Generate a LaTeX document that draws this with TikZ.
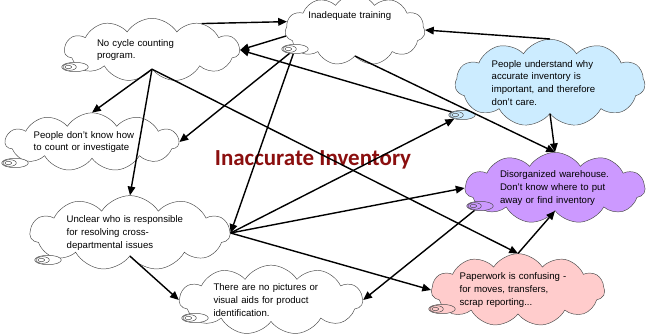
\documentclass[tikz,border=0pt]{standalone}
\usepackage{fontspec}
\setmainfont{Liberation Sans}
\newfontfamily\titlefont{Carlito}
\usepackage{xcolor}
\usepackage{tikz}
\usetikzlibrary{arrows.meta, shapes, positioning}
\definecolor{carecolor}{HTML}{CCECFF}
\definecolor{warecolor}{HTML}{CC99FF}
\definecolor{papercolor}{HTML}{FFCCCC}
\definecolor{titlecolor}{HTML}{8B0F0F}

\begin{document}
\begin{tikzpicture}[
  thought/.style={cloud, draw=black!70, line width=0.4pt, fill=white,
                  cloud puffs=11, cloud puff arc=115, cloud ignores aspect,
                  inner sep=0pt, align=left,
                  font=\fontsize{8.2}{11}\selectfont},
  tail/.style={ellipse, draw=black!70, line width=0.4pt, fill=white,
               minimum width=0.8cm, minimum height=0.28cm, inner sep=0pt,
               path picture={
                 \draw[black!70, line width=0.4pt]
                   ([xshift=0.24cm]path picture bounding box.west) ellipse (0.2cm and 0.1cm)
                   ([xshift=0.2cm]path picture bounding box.west) ellipse (0.1cm and 0.05cm);}},
  arrow/.style={-{Triangle[length=7.5pt, width=6.5pt]}, line width=1.2pt},
]
\useasboundingbox (0,0) rectangle (19.5,10.05);

%% Title
\node[font=\titlefont\fontsize{19.6}{23}\selectfont\bfseries, text=titlecolor]
      (title) at (9.39,5.25) {Inaccurate Inventory};

%% Causes (top)
\node[thought, minimum width=5.25cm, minimum height=1.9cm, text width=3.3cm]
      (cycle) at (4.56,8.55) {No cycle counting\\program.};
\node[thought, minimum width=4.2cm, minimum height=1.7cm, text width=2.8cm,
      text depth=0.9cm]
      (training) at (10.65,9.15) {Inadequate training};
\node[thought, fill=carecolor, minimum width=5.7cm, minimum height=2.3cm,
      text width=3.5cm]
      (care) at (16.5,7.56)
      {People understand why\\accurate inventory is\\important, and therefore\\don't care.};

%% Causes (middle)
\node[thought, minimum width=5.2cm, minimum height=1.75cm, text width=3.5cm]
      (count) at (2.76,5.79) {People don't know how\\to count or investigate};
\node[thought, minimum width=6.0cm, minimum height=1.7cm, text width=3.8cm]
      (unclear) at (3.9,3.06)
      {Unclear who is responsible\\for resolving cross-\\departmental issues};
\node[thought, fill=warecolor, minimum width=5.4cm, minimum height=1.8cm,
      text width=3.3cm]
      (warehouse) at (16.65,4.41)
      {Disorganized warehouse.\\Don't know where to put\\away or find inventory};

%% Causes (bottom)
\node[thought, minimum width=5.5cm, minimum height=1.85cm, text width=3.45cm]
      (pictures) at (8.13,1.05)
      {There are no pictures or\\visual aids for product\\identification.};
\node[thought, fill=papercolor, minimum width=5.2cm, minimum height=1.75cm,
      text width=3.5cm]
      (paperwork) at (15.54,1.35)
      {Paperwork is confusing -\\for moves, transfers,\\scrap reporting...};

%% Callout tails
\node[tail] (cycletail) at (2.25,8.04) {};
\node[tail] (trainingtail) at (8.85,8.58) {};
\node[tail, fill=carecolor] (caretail) at (13.86,6.6) {};
\node[tail] (counttail) at (0.45,5.16) {};
\node[tail] (uncleartail) at (1.44,2.25) {};
\node[tail] (picturestail) at (5.85,0.51) {};
\node[tail, fill=warecolor] (waretail) at (14.4,3.87) {};
\node[tail, fill=papercolor] (papertail) at (13.26,0.78) {};

%% Arrows
\draw[arrow] (cycle.28) -- (training.173);
\draw[arrow] (training.185) -- (cycle.east);
\draw[arrow] (caretail) -- (cycle.east);
\draw[arrow] (care.north) -- (training.east);
\draw[arrow] (care.south) -- (warehouse.north);
\draw[arrow] (training.south) -- (warehouse.north);
\draw[arrow] (cycle.south) -- (count.north);
\draw[arrow] (cycle.south) -- (unclear.north);
\draw[arrow] (cycle.south) -- (paperwork.north);
\draw[arrow] (trainingtail) -- (count.east);
\draw[arrow] (trainingtail) -- (unclear.east);
\draw[arrow] (unclear.east) -- (caretail);
\draw[arrow] (unclear.east) -- (warehouse.west);
\draw[arrow] (unclear.east) -- (paperwork.west);
\draw[arrow] (unclear.south) -- (pictures.west);
\draw[arrow] (waretail) -- (pictures.east);
\draw[arrow] (paperwork.north) -- (warehouse.south);

\end{tikzpicture}
\end{document}
